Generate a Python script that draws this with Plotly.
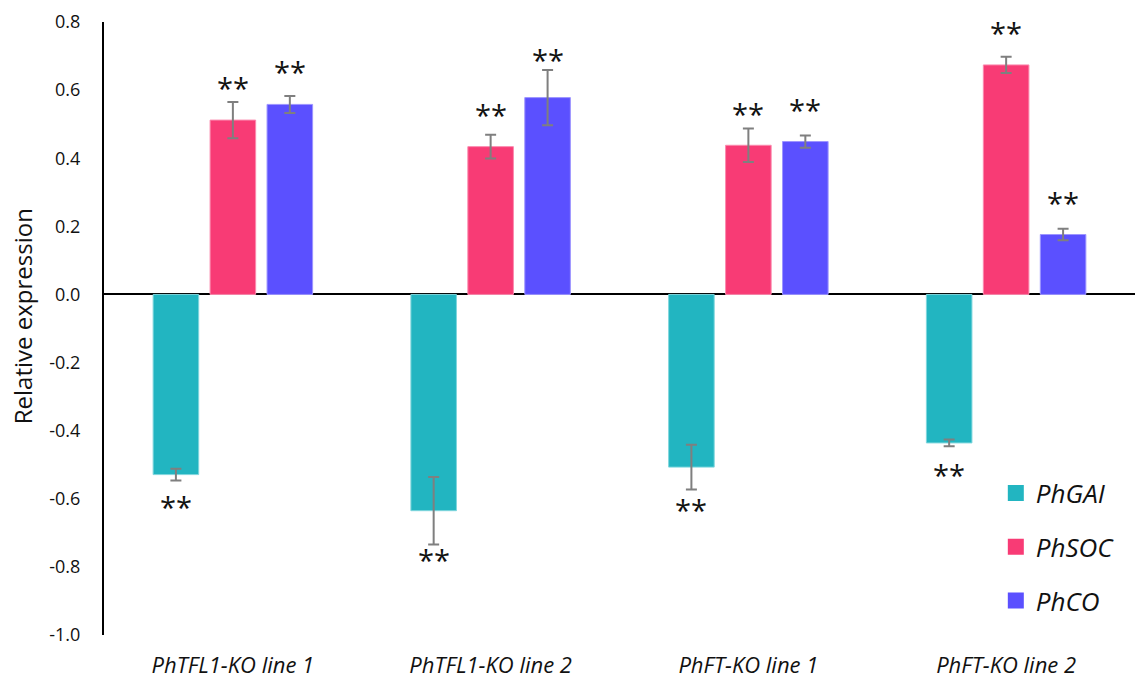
import plotly.graph_objects as go

categories = ["PhTFL1-KO line 1", "PhTFL1-KO line 2", "PhFT-KO line 1", "PhFT-KO line 2"]
series_names = ["PhGAI", "PhSOC", "PhCO"]
gai = [-0.529, -0.635, -0.507, -0.436]
gai_err = [0.017, 0.099, 0.066, 0.010]
soc = [0.512, 0.434, 0.438, 0.674]
soc_err = [0.053, 0.035, 0.049, 0.024]
co = [0.558, 0.578, 0.449, 0.176]
co_err = [0.025, 0.081, 0.018, 0.017]
# significance marks and the y value (data units) where each mark sits
stars = ["**", "**", "**", "**"]
gai_star_y = [-0.611, -0.768, -0.621, -0.517]
soc_star_y = [0.618, 0.541, 0.542, 0.782]
co_star_y = [0.665, 0.703, 0.556, 0.282]
y_ticks = [-1.0, -0.8, -0.6, -0.4, -0.2, 0.0, 0.2, 0.4, 0.6, 0.8]
y_tick_text = ["%.1f" % v for v in y_ticks]

colors = ["#22B5C1", "#F83B75", "#5B50FF"]
edge = ["#7FD6DD", "#FB8AAE", "#9D95FF"]
values = [gai, soc, co]
errors = [gai_err, soc_err, co_err]
star_ys = [gai_star_y, soc_star_y, co_star_y]

fig = go.Figure()
for name, vals, errs, col, ed in zip(series_names, values, errors, colors, edge):
    fig.add_trace(go.Bar(
        x=categories, y=vals, name=name, showlegend=False,
        marker=dict(color=col, line=dict(color=ed, width=1)),
        error_y=dict(type="data", array=errs, visible=True,
                     color="#7F7F7F", thickness=2, width=5.5),
    ))
for i, (name, col) in enumerate(zip(series_names, colors)):
    fig.add_trace(go.Scatter(
        x=[None], y=[None], mode="markers", name=name, legendgroup=name,
        marker=dict(symbol="square", size=18, color=col),
    ))

shifts = [-57, 0, 57]
for si, sy in enumerate(star_ys):
    for ci, cat in enumerate(categories):
        fig.add_annotation(
            x=cat, y=sy[ci], xref="x", yref="y", text=stars[ci],
            showarrow=False, xshift=shifts[si], yshift=-4,
            font=dict(family="Open Sans", size=29, color="#111111"),
            xanchor="center", yanchor="middle",
        )

fig.add_annotation(
    text="Relative expression", xref="paper", yref="paper",
    x=0, y=0.52, xshift=-82, textangle=-90, showarrow=False,
    xanchor="center", yanchor="middle",
    font=dict(family="Open Sans", size=24, color="#111111"),
)

fig.update_layout(
    width=1135, height=682,
    margin=dict(l=104, r=0, t=22, b=47),
    paper_bgcolor="white", plot_bgcolor="white",
    barmode="group", bargap=0.337, bargroupgap=0.2,
    font=dict(family="Open Sans", color="#111111"),
    legend=dict(
        x=0.865, y=0.27, xanchor="left", yanchor="top",
        traceorder="grouped", tracegroupgap=17,
        font=dict(family="Open Sans", size=26, style="italic", color="#111111"),
        bgcolor="rgba(0,0,0,0)",
    ),
    xaxis=dict(
        showline=False, showgrid=False, ticks="", zeroline=False,
        tickfont=dict(family="Open Sans", size=22, style="italic", color="#111111"),
        ticklabelstandoff=15, automargin=False,
    ),
    yaxis=dict(
        range=[-1.0, 0.8], tickvals=y_ticks, ticktext=y_tick_text,
        showline=True, linecolor="black", linewidth=2,
        showgrid=False, zeroline=True, zerolinecolor="black", zerolinewidth=2,
        ticks="", ticklabelstandoff=18, automargin=False,
        tickfont=dict(family="Open Sans", size=18, color="#111111"),
    ),
)

fig.write_html("out.html", config={"displayModeBar": False},
               post_script="document.body.style.margin='0';document.body.style.overflow='hidden';")
